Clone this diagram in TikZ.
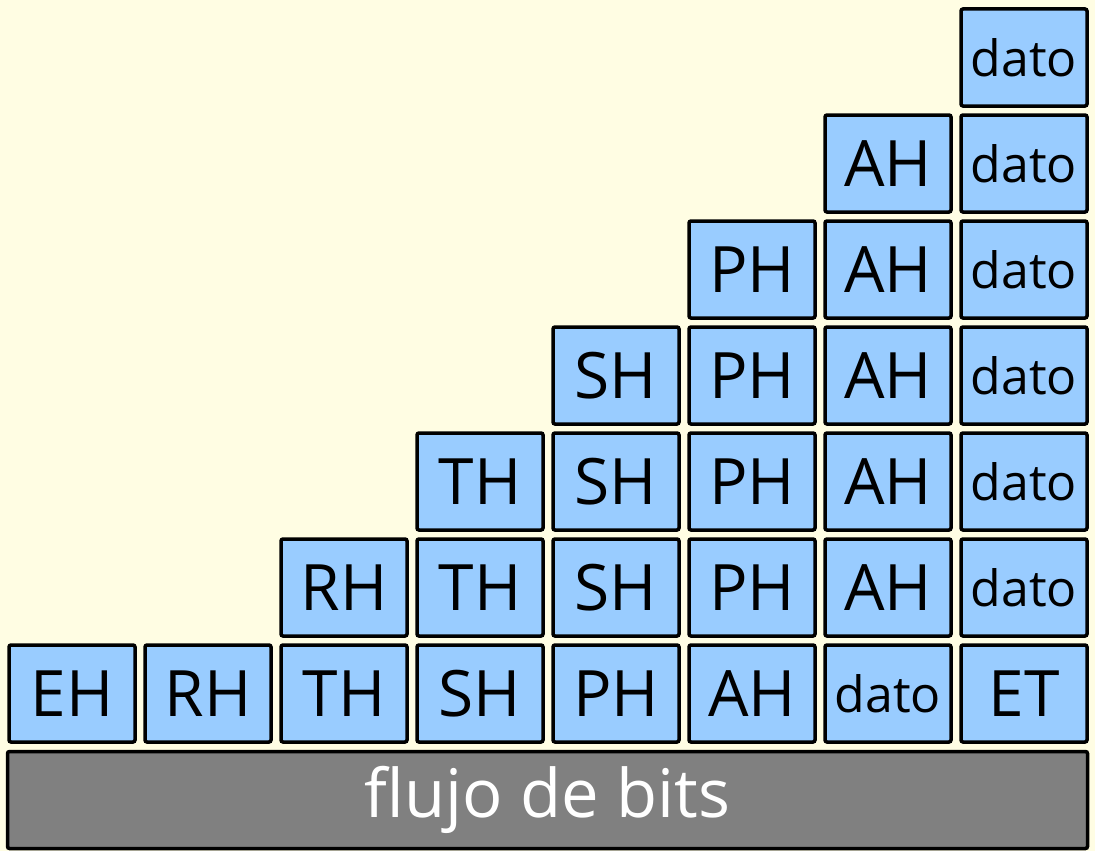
\documentclass[tikz,border=0pt]{standalone}
\usepackage{fontspec}
\setmainfont{Open Sans}
\definecolor{bg}{HTML}{FFFDE3}
\definecolor{boxblue}{HTML}{99CCFF}
\definecolor{bargray}{HTML}{808080}
\begin{document}
\begin{tikzpicture}[x=1pt,y=-1pt,
  hdr/.style={draw=black,line width=3.5pt,rounded corners=2pt,fill=boxblue,
    minimum width=126pt,minimum height=97pt,inner sep=0pt,
    font=\fontsize{64}{64}\selectfont},
  datbox/.style={hdr,font=\fontsize{50}{50}\selectfont},
  bar/.style={draw=black,line width=3.5pt,rounded corners=2pt,fill=bargray,
    minimum width=1080pt,minimum height=97pt,inner sep=0pt,text=white,
    font=\fontsize{67}{67}\selectfont}]
\useasboundingbox[fill=bg] (0,0) rectangle (1095,851);
% column i center x = 72+136 i ; row r center y = 693.5-106 r
\foreach \col/\row/\name/\lab/\sty in {
  0/0/EH0/EH/hdr,
  1/0/RH0/RH/hdr,
  2/0/TH0/TH/hdr, 2/1/RH1/RH/hdr,
  3/0/SH0/SH/hdr, 3/1/TH1/TH/hdr, 3/2/TH2/TH/hdr,
  4/0/PH0/PH/hdr, 4/1/SH1/SH/hdr, 4/2/SH2/SH/hdr, 4/3/SH3/SH/hdr,
  5/0/AH0/AH/hdr, 5/1/PH1/PH/hdr, 5/2/PH2/PH/hdr, 5/3/PH3/PH/hdr, 5/4/PH4/PH/hdr,
  6/0/D60/dato/datbox, 6/1/AH1/AH/hdr, 6/2/AH2/AH/hdr, 6/3/AH3/AH/hdr, 6/4/AH4/AH/hdr, 6/5/AH5/AH/hdr,
  7/0/ET0/ET/hdr, 7/1/D71/dato/datbox, 7/2/D72/dato/datbox, 7/3/D73/dato/datbox, 7/4/D74/dato/datbox, 7/5/D75/dato/datbox, 7/6/D76/dato/datbox}
  \node[\sty] (\name) at ({72+136*\col},{693.5-106*\row}) {\lab};
\node[bar] (flujo) at (547.5,800) {flujo de bits};
\end{tikzpicture}
\end{document}
